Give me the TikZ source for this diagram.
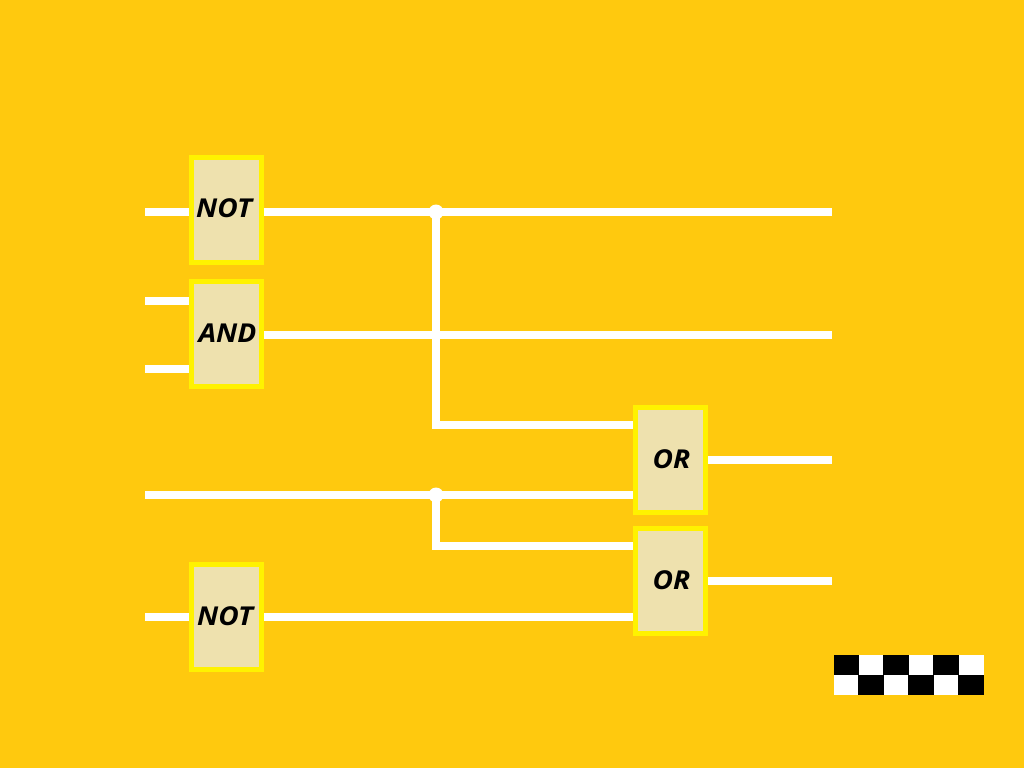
\documentclass[tikz,border=0pt]{standalone}
\usepackage{fontspec}
\newfontfamily\gatefont[FakeStretch=1.08]{Open Sans}
\definecolor{bgcol}{HTML}{FFC90E}
\definecolor{gatefill}{HTML}{EEE1AE}
\definecolor{gateline}{HTML}{FFF200}
\tikzset{
gate/.style={draw=gateline, fill=gatefill, line width=5pt, minimum width=70pt, minimum height=105pt, inner sep=0pt}, % the boxes
gatetext/.style={inner sep=0pt, font=\gatefont\bfseries\itshape\fontsize{26}{26}\selectfont}, % the words on the boxes
wire/.style={draw=white, line width=8pt}, % every connector
junction/.style={circle, fill=white, minimum size=15pt, inner sep=0pt}, % the dots where wires split
}

\begin{document}
\begin{tikzpicture}[x=1pt, y=-1pt]
        %% background fixes the size of the page
        \fill[bgcol] (0,0) rectangle (1024,768);
        %% gates
        \node[gate] (notA) at (226.5,210) {};
        \node[gate] (andA) at (226.5,334) {};
        \node[gate] (notB) at (226.5,617) {};
        \node[gate] (orA) at (670.5,460) {};
        \node[gate] (orB) at (670.5,581) {};
        %% labels
        \node[gatetext] (notAtext) at (224,208) {NOT};
        \node[gatetext] (andAtext) at (227.5,333) {AND};
        \node[gatetext] (notBtext) at (225,616) {NOT};
        \node[gatetext] (orAtext) at (671.5,459) {OR};
        \node[gatetext] (orBtext) at (671.5,580) {OR};
        %% free ends of the wires
        \coordinate (inA) at (145,212);
        \coordinate (inB) at (145,301);
        \coordinate (inC) at (145,369);
        \coordinate (inD) at (145,495);
        \coordinate (inE) at (145,617);
        \coordinate (outA) at (832,212);
        \coordinate (outB) at (832,335);
        \coordinate (outC) at (832,460);
        \coordinate (outD) at (832,581);
        %% junctions
        \node[junction] (dotA) at (436,212) {};
        \node[junction] (dotB) at (436,495) {};
        %% wires
        \draw[wire] (inA) -- (notA.west |- inA);
        \draw[wire] (inB) -- (andA.west |- inB);
        \draw[wire] (inC) -- (andA.west |- inC);
        \draw[wire] (notA.east |- outA) -- (outA);
        \draw[wire] (andA.east |- outB) -- (outB);
        \draw[wire] (dotA.center) -- (436,425) -- (orA.west |- 0,425);
        \draw[wire] (inD) -- (orA.west |- inD);
        \draw[wire] (dotB.center) -- (436,546) -- (orB.west |- 0,546);
        \draw[wire] (inE) -- (notB.west |- inE);
        \draw[wire] (notB.east) -- (orB.west |- notB.east);
        \draw[wire] (orA.east) -- (outC);
        \draw[wire] (orB.east) -- (outD);
        %% checker board, white first and the black squares on top
        \fill[white] (834,655) rectangle (984,695);
        \foreach \xa/\xb in {834/859, 883/909, 933/959} {
            \fill[black] (\xa,655) rectangle (\xb,675);
        }
        \foreach \xa/\xb in {858/884, 908/934, 958/984} {
            \fill[black] (\xa,675) rectangle (\xb,695);
        }
    \end{tikzpicture}
\end{document}
